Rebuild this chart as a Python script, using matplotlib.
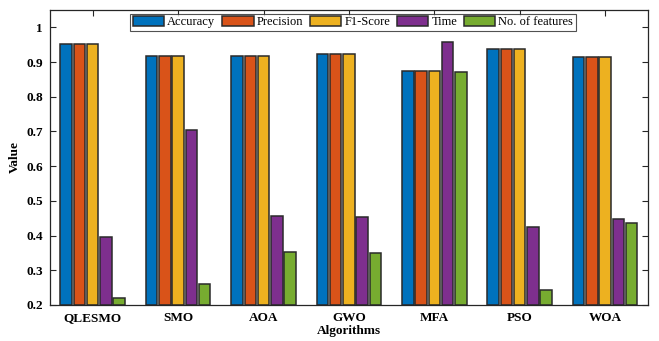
import numpy as np
import matplotlib
matplotlib.use("Agg")
import matplotlib.pyplot as plt

algorithms = ["QLESMO", "SMO", "AOA", "GWO", "MFA", "PSO", "WOA"]
series_names = ["Accuracy", "Precision", "F1-Score", "Time", "No. of features"]
accuracy = [0.951, 0.917, 0.917, 0.924, 0.875, 0.937, 0.915]
precision = [0.951, 0.917, 0.917, 0.924, 0.875, 0.937, 0.915]
f1_score = [0.951, 0.917, 0.917, 0.924, 0.875, 0.937, 0.915]
time_vals = [0.395, 0.705, 0.455, 0.454, 0.959, 0.425, 0.448]
n_features = [0.221, 0.260, 0.353, 0.349, 0.872, 0.242, 0.436]
yticks = [0.2, 0.3, 0.4, 0.5, 0.6, 0.7, 0.8, 0.9, 1.0]
ytick_labels = ["0.2", "0.3", "0.4", "0.5", "0.6", "0.7", "0.8", "0.9", "1"]

colors = ["#0072BD", "#D95319", "#EDB120", "#7E2F8E", "#77AC30"]

plt.rcParams["font.family"] = ["Liberation Serif", "DejaVu Serif"]

fig = plt.figure(figsize=(6.59, 3.41), dpi=100)
ax = fig.add_axes([0.0759, 0.1056, 0.9071, 0.8651])

x = np.arange(1, len(algorithms) + 1)
slot = 0.155
width = 0.135
all_series = [accuracy, precision, f1_score, time_vals, n_features]
for i, (vals, name) in enumerate(zip(all_series, series_names)):
    offs = (i - 2) * slot
    ax.bar(x + offs, np.array(vals) - 0.2, width, bottom=0.2, color=colors[i],
           edgecolor="#2a2a2a", linewidth=1.1, label=name, zorder=2)

ax.set_xlim(0.5, 7.5)
ax.set_ylim(0.2, 1.05)
ax.set_xticks(x)
ax.set_xticklabels(algorithms, fontweight="bold", fontsize=9.5)
ax.set_yticks(yticks)
ax.set_yticklabels(ytick_labels, fontweight="bold", fontsize=9.5)
ax.tick_params(direction="in", top=True, right=True, length=4, color="#262626", pad=5)
for s in ax.spines.values():
    s.set_color("#262626")
    s.set_linewidth(0.9)

ax.set_xlabel("Algorithms", fontweight="bold", fontsize=9.5, labelpad=1)
ax.set_ylabel("Value", fontweight="bold", fontsize=9.5, labelpad=4)

leg = ax.legend(loc="upper center", ncol=5, fontsize=9, frameon=True, fancybox=False,
                edgecolor="#262626", handlelength=2.5, handleheight=0.8, handletextpad=0.25,
                columnspacing=0.55, borderpad=0.2, borderaxespad=0.3,
                bbox_to_anchor=(0.507, 1.0))
leg.get_frame().set_linewidth(0.8)

fig.savefig("out.png", dpi=100)
